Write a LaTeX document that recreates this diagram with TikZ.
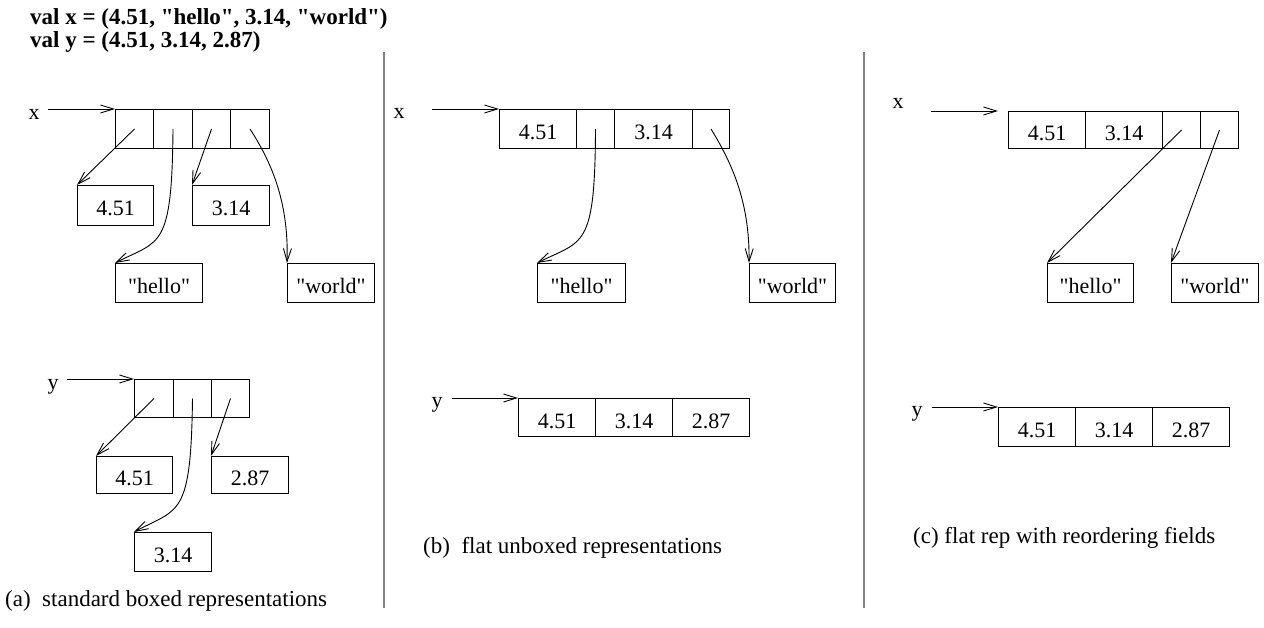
\documentclass[tikz,border=0pt]{standalone}
\usepackage{fontspec}
\setmainfont{Liberation Serif}[Ligatures=TeXOff]
\usetikzlibrary{arrows.meta}
\begin{document}
\begin{tikzpicture}[x=1pt,y=-1pt,
  every node/.style={font=\fontsize{22}{24}\selectfont},
  sz/.style 2 args={minimum width=#1pt, minimum height=#2pt},
  box/.style={draw, line width=1pt, inner sep=0pt, anchor=north west, text height=21pt, text depth=0pt},
  ptr/.style={line width=0.9pt, -{Straight Barb[length=13pt,width=8pt]}},
  divider/.style={draw=gray, line width=2pt},
  lbl/.style={anchor=base, inner sep=0pt},
  captxt/.style={anchor=base west, inner sep=0pt, font=\fontsize{23}{25}\selectfont},
  ttl/.style={anchor=base west, inner sep=0pt, font=\fontsize{23}{25}\selectfont\bfseries}]
\useasboundingbox (0,0) rectangle (1264,628);

% title
\node[ttl] (t1) at (30,25) {val x = (4.51, "hello", 3.14, "world")};
\node[ttl] (t2) at (30,48) {val y = (4.51, 3.14, 2.87)};

% dividers
\coordinate (d1a) at (384,52); \coordinate (d1b) at (384,608);
\coordinate (d2a) at (864,52); \coordinate (d2b) at (864,608);
\draw[divider] (d1a) -- (d1b);
\draw[divider] (d2a) -- (d2b);

% ---------- panel (a) ----------
\node[lbl] (axl) at (34,120) {x};
\coordinate (axs) at (48,109);
\node[box,sz={38}{39}] (ax1) at (115,109) {};
\node[box,sz={39}{39}] (ax2) at (153,109) {};
\node[box,sz={38}{39}] (ax3) at (192,109) {};
\node[box,sz={39}{39}] (ax4) at (230,109) {};
\draw[ptr] (axs) -- (ax1.north west);

\node[box,sz={76}{40}] (a451) at (77,185) {4.51};
\node[box,sz={77}{40}] (a314) at (192,185) {3.14};
\node[box,sz={87}{39}] (ahello) at (115,263) {"hello"};
\node[box,sz={87}{39}] (aworld) at (287,263) {"world"};

\draw[ptr] (ax1.center) -- (a451.north west);
\draw[ptr] (ax3.center) -- (a314.north west);
\draw[ptr] (ax2.center) .. controls (172,250) and (160,240) .. (ahello.north west);
\draw[ptr] (ax4.center) .. controls (270,160) and (289,200) .. (aworld.north west);

\node[lbl] (ayl) at (53,389) {y};
\coordinate (ays) at (67,379);
\node[box,sz={39}{38}] (ay1) at (134,379) {};
\node[box,sz={38}{38}] (ay2) at (173,379) {};
\node[box,sz={38}{38}] (ay3) at (211,379) {};
\draw[ptr] (ays) -- (ay1.north west);

\node[box,sz={76}{37}] (ay451) at (96,456) {4.51};
\node[box,sz={77}{37}] (ay287) at (211,456) {2.87};
\node[box,sz={77}{39}] (ay314) at (134,532) {3.14};

\draw[ptr] (ay1.center) -- (ay451.north west);
\draw[ptr] (ay3.center) -- (ay287.north west);
\draw[ptr] (ay2.center) .. controls (191,518) and (179,508) .. (ay314.north west);

\node[captxt] (capa) at (5,606) {(a)\ \ standard boxed representations};

% ---------- panel (b) ----------
\node[lbl] (bxl) at (399,119) {x};
\coordinate (bxs) at (432,109);
\node[box,sz={77}{39}] (bx1) at (499,109) {4.51};
\node[box,sz={38}{39}] (bx2) at (576,109) {};
\node[box,sz={78}{39}] (bx3) at (614,109) {3.14};
\node[box,sz={37}{39}] (bx4) at (692,109) {};
\draw[ptr] (bxs) -- (bx1.north west);

\node[box,sz={88}{39}] (bhello) at (537,263) {"hello"};
\node[box,sz={86}{39}] (bworld) at (749,263) {"world"};
\draw[ptr] (bx2.center) .. controls (595,250) and (583,240) .. (bhello.north west);
\draw[ptr] (bx4.center) .. controls (730,160) and (750,200) .. (bworld.north west);

\node[lbl] (byl) at (437,407) {y};
\coordinate (bys) at (452,398);
\node[box,sz={77}{38}] (by1) at (518,398) {4.51};
\node[box,sz={77}{38}] (by2) at (595,398) {3.14};
\node[box,sz={77}{38}] (by3) at (672,398) {2.87};
\draw[ptr] (bys) -- (by1.north west);

\node[captxt] (capb) at (423,553) {(b)\ \ flat unboxed representations};

% ---------- panel (c) ----------
\node[lbl] (cxl) at (898,109) {x};
\coordinate (cxs) at (931,111);
\coordinate (cxe) at (998,111);
\node[box,sz={77}{37}] (cx1) at (1008,111) {4.51};
\node[box,sz={77}{37}] (cx2) at (1085,111) {3.14};
\node[box,sz={38}{37}] (cx3) at (1162,111) {};
\node[box,sz={38}{37}] (cx4) at (1200,111) {};
\draw[ptr] (cxs) -- (cxe);

\node[box,sz={86}{39}] (chello) at (1047,263) {"hello"};
\node[box,sz={87}{39}] (cworld) at (1171,263) {"world"};
\draw[ptr] (cx3.center) -- (chello.north west);
\draw[ptr] (cx4.center) -- (cworld.north west);

\node[lbl] (cyl) at (917,416) {y};
\coordinate (cys) at (932,407);
\node[box,sz={77}{39}] (cy1) at (998,407) {4.51};
\node[box,sz={77}{39}] (cy2) at (1075,407) {3.14};
\node[box,sz={77}{39}] (cy3) at (1152,407) {2.87};
\draw[ptr] (cys) -- (cy1.north west);

\node[captxt] (capc) at (913,543) {(c) flat rep with reordering fields};
\end{tikzpicture}
\end{document}
